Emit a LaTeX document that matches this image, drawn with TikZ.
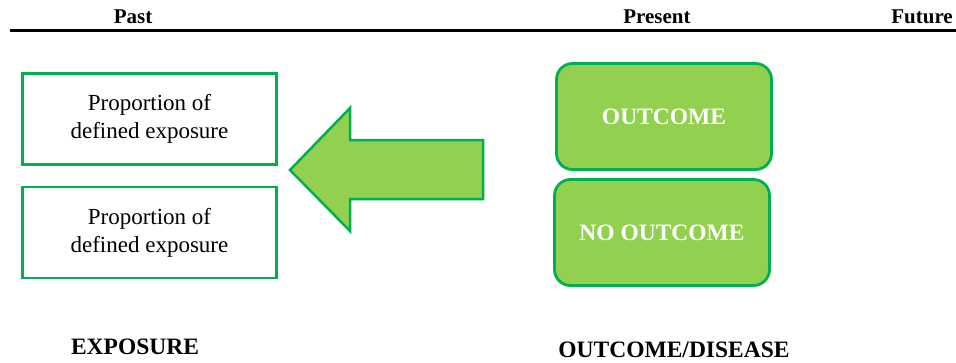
\documentclass[tikz,border=0pt]{standalone}
\usepackage{fontspec}
\setmainfont{Liberation Serif}
\begin{document}
\begin{tikzpicture}[x=1pt,y=-1pt,
  hdr/.style={font=\fontsize{21}{24}\selectfont\bfseries, inner sep=0pt},
  plainbox/.style={draw=borderg, line width=2.8pt, fill=white, minimum width=254pt, minimum height=91pt, align=center, font=\fontsize{23}{28}\selectfont, inner sep=0pt},
  greenbox/.style={draw=borderg, line width=2.8pt, fill=fillg, rounded corners=16pt, minimum width=215pt, minimum height=106pt, text=white, font=\fontsize{23.5}{26}\selectfont\bfseries, inner sep=0pt},
  lbl/.style={font=\fontsize{23.5}{26}\selectfont\bfseries, inner sep=0pt}]
\definecolor{borderg}{HTML}{00B050}
\definecolor{fillg}{HTML}{92D050}
\useasboundingbox (0,0) rectangle (956,362);
% header
\node[hdr] (past) at (133,17) {Past};
\node[hdr] (present) at (657,17) {Present};
\node[hdr, anchor=east] (future) at (953,17) {Future};
\draw[line width=2.5pt] (10,30.5) -- (956,30.5);
% left boxes
\node[plainbox] (e1) at (149.5,119) {Proportion of\\defined exposure};
\node[plainbox] (e2) at (149.5,232.5) {Proportion of\\defined exposure};
% arrow
\draw[draw=borderg, fill=fillg, line width=2.5pt, line join=miter]
  (290,170) -- (350,108) -- (350,140) -- (483,140) -- (483,199) -- (350,199) -- (350,231) -- cycle;
% right boxes
\node[greenbox] (o1) at (664,116.5) {OUTCOME};
\node[greenbox] (o2) at (662,232.5) {NO OUTCOME};
% bottom labels
\node[lbl] (expo) at (135,347) {EXPOSURE};
\node[lbl] (dis) at (674,349.5) {OUTCOME/DISEASE};
\end{tikzpicture}
\end{document}
